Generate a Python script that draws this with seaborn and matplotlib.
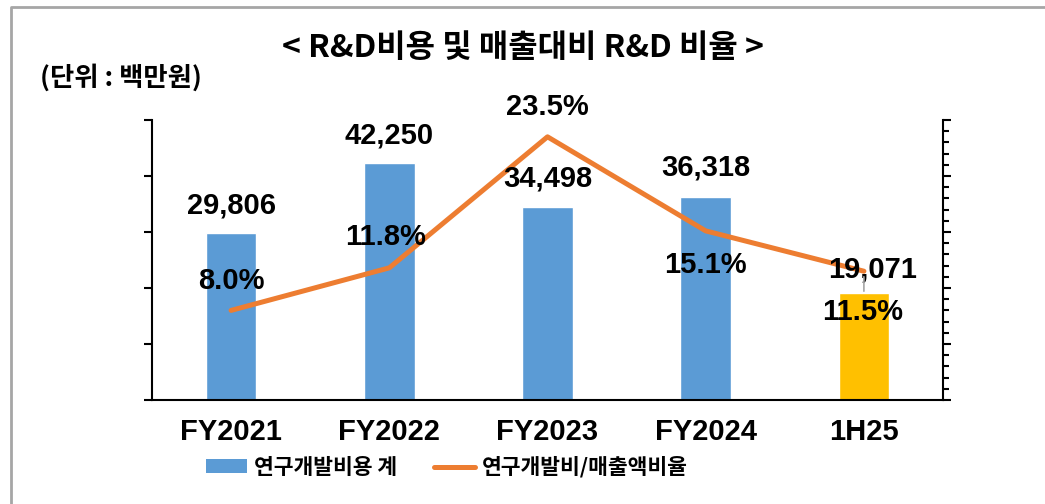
import numpy as np
import seaborn as sns
import matplotlib.pyplot as plt
from matplotlib.lines import Line2D
from matplotlib.patches import Patch
from matplotlib.ticker import MultipleLocator

# chart data
categories = ['FY2021', 'FY2022', 'FY2023', 'FY2024', '1H25']
rnd_cost = [29806, 42250, 34498, 36318, 19071]
rnd_ratio = [8.0, 11.8, 23.5, 15.1, 11.5]
bar_colors = ['#5B9BD5', '#5B9BD5', '#5B9BD5', '#5B9BD5', '#FFC000']

sns.set_style('white')
plt.rcParams['font.family'] = ['Noto Sans CJK KR', 'DejaVu Sans']
plt.rcParams['text.color'] = 'black'
plt.rcParams['xtick.labelcolor'] = 'black'

fig = plt.figure(figsize=(10.45, 5.04), dpi=100)
ax = fig.add_axes([152 / 1045, 1 - 400 / 504, 791 / 1045, 280 / 504])

sns.barplot(x=categories, y=rnd_cost, hue=categories, palette=bar_colors,
            legend=False, width=0.32, saturation=1, ax=ax)
ax.set_xlim(-0.5, 4.5)
ax.set_ylim(0, 50000)
ax.yaxis.set_major_locator(MultipleLocator(10000))
ax.set_yticklabels([])
ax.set_xticks(np.arange(-0.5, 5, 1))
ax.set_xticklabels([])
ax.set_xticks(np.arange(5), minor=True)
ax.set_xticklabels(categories, minor=True, fontsize=21, fontweight='bold',
                   family='Liberation Sans', color='black')
ax.tick_params(axis='x', which='minor', length=0, pad=13)
ax.tick_params(axis='x', which='major', direction='out', length=6, width=1.5, color='black')
ax.tick_params(axis='y', direction='out', length=6, width=1.5, color='black', left=True)
for s in ['top', 'right']:
    ax.spines[s].set_visible(False)
for s in ['left', 'bottom']:
    ax.spines[s].set_color('black')
    ax.spines[s].set_linewidth(1.5)

ax2 = ax.twinx()
sns.lineplot(x=np.arange(5), y=rnd_ratio, color='#ED7D31', linewidth=3.6, ax=ax2)
ax2.set_ylim(0, 25)
ax2.yaxis.set_major_locator(MultipleLocator(5))
ax2.yaxis.set_minor_locator(MultipleLocator(1))
ax2.set_yticklabels([])
ax2.tick_params(axis='y', which='major', direction='out', length=6, width=1.5,
                color='black', right=True)
ax2.tick_params(axis='y', which='minor', direction='out', length=4, width=1.5,
                color='black', right=True)
for s in ['top', 'left', 'bottom']:
    ax2.spines[s].set_visible(False)
ax2.spines['right'].set_color('black')
ax2.spines['right'].set_linewidth(1.5)

# labels drawn on the twin axes so they sit above the line
cost_offsets = [(0, 28), (0, 28), (0, 28), (0, 29), (9, 24)]
for i, (v, off) in enumerate(zip(rnd_cost, cost_offsets)):
    ax2.annotate(f'{v:,}', (i, v), xycoords=ax.transData, xytext=off,
                 textcoords='offset pixels', ha='center', va='center',
                 fontsize=21, fontweight='bold', family='Liberation Sans')

ratio_offsets = [(0, 29), (-4, 31), (0, 30), (0, -34), (-1, -41)]
for i, (v, off) in enumerate(zip(rnd_ratio, ratio_offsets)):
    ax2.annotate(f'{v:.1f}%', (i, v), xytext=off, textcoords='offset pixels',
                 ha='center', va='center', fontsize=21, fontweight='bold',
                 family='Liberation Sans')

# small leader line under the last ratio point
ax2.annotate('', xy=(4, 11.5), xytext=(0, -20), textcoords='offset pixels',
             arrowprops=dict(arrowstyle='-', color='#A6A6A6', lw=1.2,
                             shrinkA=0, shrinkB=4))

fig.text(0.5, 1 - 48 / 504, '< R&D비용 및 매출대비 R&D 비율 >', ha='center', va='center',
         fontsize=23, fontweight='bold')
fig.text(40 / 1045, 1 - 78 / 504, '(단위 : 백만원)', ha='left', va='center',
         fontsize=19, fontweight='bold')

handles = [Patch(facecolor='#5B9BD5', edgecolor='none'),
           Line2D([0], [0], color='#ED7D31', linewidth=3.6)]
fig.legend(handles, ['연구개발비용 계', '연구개발비/매출액비율'], loc='center',
           bbox_to_anchor=(447 / 1045, 1 - 467 / 504), ncol=2, frameon=False,
           prop={'size': 15.5, 'weight': 'bold'}, handlelength=1.9, handleheight=0.6,
           columnspacing=1.7, handletextpad=0.35)

border = Line2D([11 / 1045, 11 / 1045, 1], [0, 1 - 7 / 504, 1 - 7 / 504],
                color='#A6A6A6', linewidth=2, transform=fig.transFigure)
fig.add_artist(border)

fig.savefig('out.png', dpi=100)
